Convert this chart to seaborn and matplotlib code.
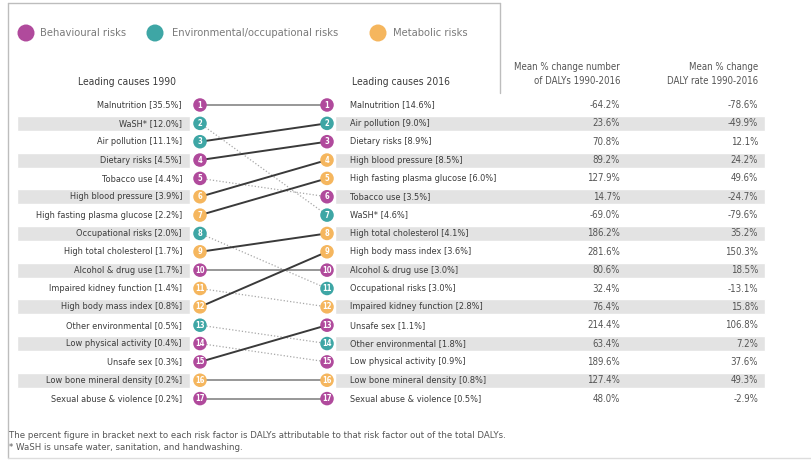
import numpy as np
import pandas as pd
import matplotlib
matplotlib.use('Agg')
import matplotlib.pyplot as plt
import seaborn as sns

# risk factors, listed in their 1990 rank order
causes = ['Malnutrition', 'WaSH*', 'Air pollution', 'Dietary risks', 'Tobacco use',
          'High blood pressure', 'High fasting plasma glucose', 'Occupational risks',
          'High total cholesterol', 'Alcohol & drug use', 'Impaired kidney function',
          'High body mass index', 'Other environmental', 'Low physical activity',
          'Unsafe sex', 'Low bone mineral density', 'Sexual abuse & violence']
category = ['Behavioural', 'Environmental', 'Environmental', 'Behavioural', 'Behavioural',
            'Metabolic', 'Metabolic', 'Environmental', 'Metabolic', 'Behavioural',
            'Metabolic', 'Metabolic', 'Environmental', 'Behavioural', 'Behavioural',
            'Metabolic', 'Behavioural']
share_1990 = [35.5, 12.0, 11.1, 4.5, 4.4, 3.9, 2.2, 2.0, 1.7, 1.7, 1.4, 0.8, 0.5, 0.4, 0.3, 0.2, 0.2]
rank_2016 = [1, 7, 2, 3, 6, 4, 5, 11, 8, 10, 12, 9, 14, 15, 13, 16, 17]
share_2016 = [14.6, 4.6, 9.0, 8.9, 3.5, 8.5, 6.0, 3.0, 4.1, 3.0, 2.8, 3.6, 1.8, 0.9, 1.1, 0.8, 0.5]

# table columns, in 2016 rank order
change_number = [-64.2, 23.6, 70.8, 89.2, 127.9, 14.7, -69.0, 186.2, 281.6, 80.6,
                 32.4, 76.4, 214.4, 63.4, 189.6, 127.4, 48.0]
change_rate = [-78.6, -49.9, 12.1, 24.2, 49.6, -24.7, -79.6, 35.2, 150.3, 18.5,
               -13.1, 15.8, 106.8, 7.2, 37.6, 49.3, -2.9]

legend_labels = {'Behavioural': 'Behavioural risks',
                 'Environmental': 'Environmental/occupational risks',
                 'Metabolic': 'Metabolic risks'}
palette = {'Behavioural': '#b04a9c', 'Environmental': '#3ea6a5', 'Metabolic': '#f5b65e'}

df = pd.DataFrame({'cause': causes, 'category': category,
                   'rank_1990': np.arange(1, len(causes) + 1), 'rank_2016': rank_2016,
                   'share_1990': share_1990, 'share_2016': share_2016})
df16 = df.sort_values('rank_2016').reset_index(drop=True)
df16['change_number'] = change_number
df16['change_rate'] = change_rate

sns.set_theme(style='white')
plt.rcParams['font.family'] = ['DejaVu Sans']
plt.rcParams['font.stretch'] = 'condensed'

W, H = 811, 461
fig = plt.figure(figsize=(W / 100, H / 100), dpi=100)
fig.patch.set_facecolor('white')

# decoration layer in pixel units
deco = fig.add_axes([0, 0, 1, 1])
deco.set_xlim(0, W)
deco.set_ylim(H, 0)
deco.axis('off')

# chart layer: x in pixels, y in rank units
ax = fig.add_axes([0, 0, 1, 1], facecolor='none')
row0, step = 105, 18.35
ylim = (1 + (H - row0) / step, 1 - row0 / step)

x_left, x_right = 200, 327
txt = '#3b3b3b'
grey = '#555555'
fs = 6.6
fs_tab = 6.9

# shaded bands on even rows
even = df[df['rank_1990'] % 2 == 0]
ax.barh(even['rank_1990'], 173, left=17, height=0.82, color='#e3e3e3', zorder=0)
ax.barh(even['rank_1990'], 430, left=335, height=0.82, color='#e3e3e3', zorder=0)

# connecting lines
for _, r in df.iterrows():
    y0, y1 = r['rank_1990'], r['rank_2016']
    if y1 < y0:
        ax.plot([x_left, x_right], [y0, y1], color='#3a3a3a', lw=1.4, zorder=1)
    elif y1 == y0:
        ax.plot([x_left, x_right], [y0, y1], color='#7a7a7a', lw=1.1, zorder=1)
    else:
        ax.plot([x_left, x_right], [y0, y1], color='#a8a8a8', lw=0.9,
                ls=(0, (1, 1.6)), zorder=1)

# circles
sns.scatterplot(data=df, x=np.full(len(df), x_left), y='rank_1990', hue='category',
                palette=palette, s=95, edgecolor='none', legend=False, ax=ax, zorder=3)
sns.scatterplot(data=df, x=np.full(len(df), x_right), y='rank_2016', hue='category',
                palette=palette, s=95, edgecolor='none', legend=False, ax=ax, zorder=3)
ax.set_xlim(0, W)
ax.set_ylim(*ylim)
ax.axis('off')

for _, r in df.iterrows():
    ax.text(x_left, r['rank_1990'], str(r['rank_1990']), color='white', fontsize=5.5,
            fontweight='bold', ha='center', va='center', zorder=4)
    ax.text(x_right, r['rank_2016'], str(r['rank_2016']), color='white', fontsize=5.5,
            fontweight='bold', ha='center', va='center', zorder=4)
    ax.text(182, r['rank_1990'], f"{r['cause']} [{r['share_1990']:.1f}%]", color=txt,
            fontsize=fs, ha='right', va='center')

for _, r in df16.iterrows():
    ax.text(350, r['rank_2016'], f"{r['cause']} [{r['share_2016']:.1f}%]", color=txt,
            fontsize=fs, ha='left', va='center')
    ax.text(620, r['rank_2016'], f"{r['change_number']:.1f}%", color=grey,
            fontsize=fs_tab, ha='right', va='center')
    ax.text(758, r['rank_2016'], f"{r['change_rate']:.1f}%", color=grey,
            fontsize=fs_tab, ha='right', va='center')

# headers
deco.text(78, 82, 'Leading causes 1990', color=txt, fontsize=7.4, va='center')
deco.text(352, 82, 'Leading causes 2016', color=txt, fontsize=7.4, va='center')
deco.text(620, 74, 'Mean % change number\nof DALYs 1990-2016', color=grey,
          fontsize=fs_tab, ha='right', va='center', linespacing=1.5)
deco.text(758, 74, 'Mean % change\nDALY rate 1990-2016', color=grey,
          fontsize=fs_tab, ha='right', va='center', linespacing=1.5)

# legend
for (key, lab), lx, tx in zip(legend_labels.items(), [26, 155, 378], [40, 172, 393]):
    deco.scatter(lx, 33, s=150, color=palette[key], edgecolor='none')
    deco.text(tx, 33, lab, color='#7a7a7a', fontsize=7.2, va='center',
              fontstretch='normal')

# footnote
deco.text(9, 435, 'The percent figure in bracket next to each risk factor is DALYs '
          'attributable to that risk factor out of the total DALYs.',
          color=grey, fontsize=6.2, va='center', fontstretch='normal')
deco.text(9, 447, '* WaSH is unsafe water, sanitation, and handwashing.',
          color=grey, fontsize=6.2, va='center', fontstretch='normal')

# frame
deco.plot([8, 500], [3, 3], color='#bdbdbd', lw=1)
deco.plot([8, 8], [3, 458], color='#bdbdbd', lw=1)
deco.plot([8, W], [458, 458], color='#dddddd', lw=1)
deco.plot([500, 500], [3, 93], color='#bdbdbd', lw=1)

fig.savefig('out.png', dpi=100, facecolor='white')
